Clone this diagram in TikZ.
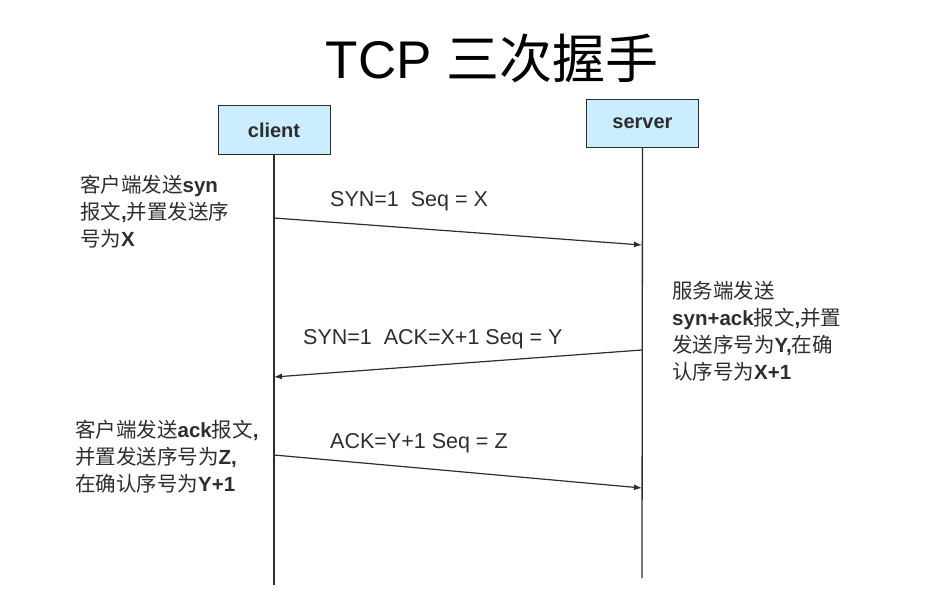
\documentclass[tikz,border=0pt]{standalone}
\usepackage{fontspec}
\setmainfont{Liberation Sans}
\newfontfamily\cjk{Noto Sans CJK SC}
\usetikzlibrary{positioning,arrows.meta}
\definecolor{boxfill}{RGB}{204,236,255}
\definecolor{ink}{RGB}{45,45,45}
\newcommand{\zh}[1]{{\cjk #1}}
\newcommand{\la}[1]{\textbf{#1}}
\tikzset{
  host/.style={draw=ink,fill=boxfill,minimum width=112pt,minimum height=48pt,inner sep=0pt,font=\fontsize{20}{22}\selectfont\bfseries,text=ink,line width=1pt},
  life/.style={draw=ink,line width=1.3pt},
  msg/.style={-{Latex[length=8pt,width=6pt]},draw=ink,line width=1.2pt},
  lbl/.style={anchor=west,font=\fontsize{21.5}{24}\selectfont,inner sep=0pt,text=ink},
  note/.style={anchor=north west,align=left,font=\fontsize{20.5}{27}\selectfont,inner sep=0pt,text=ink},
}

\begin{document}
\begin{tikzpicture}[x=1pt,y=-1pt]
  \useasboundingbox (0,0) rectangle (942,615);
  \node[font=\fontsize{53}{60}\selectfont] (title) at (492,58) {TCP \zh{三次握手}};

  % hosts and lifelines
  \node[host] (client) at (274,130) {client};
  \node[host] (server) at (642.5,123.5) {server};
  \coordinate (cend) at (274,585);
  \coordinate (send) at (642,578);
  \draw[life] (client.south) -- (cend);
  \draw[life] (server.south) -- (send);

  % message end points on the lifelines
  \coordinate (c1) at (274,218);  \coordinate (s1) at (642,245);
  \coordinate (s2) at (642,350);  \coordinate (c2) at (274,377);
  \coordinate (c3) at (274,455);  \coordinate (s3) at (642,488);

  \draw[msg] (c1) -- (s1);
  \draw[msg] (s2) -- (c2);
  \draw[msg] (c3) -- (s3);

  \node[lbl] (m1) at (330,201) {SYN=1\ \ Seq = X};
  \node[lbl] (m2) at (303,339) {SYN=1\ \ ACK=X+1 Seq = Y};
  \node[lbl] (m3) at (330,443) {ACK=Y+1 Seq = Z};

  % notes
  \node[note] (n1) at (80,175) {\zh{客户端发送}\la{syn}\\\zh{报文}\la{,}\zh{并置发送序}\\\zh{号为}\la{X}};
  \node[note] (n2) at (672,281) {\zh{服务端发送}\\\la{syn+ack}\zh{报文}\la{,}\zh{并置}\\\zh{发送序号为}\la{Y,}\zh{在确}\\\zh{认序号为}\la{X+1}};
  \node[note] (n3) at (75,420) {\zh{客户端发送}\la{ack}\zh{报文}\la{,}\\\zh{并置发送序号为}\la{Z,}\\\zh{在确认序号为}\la{Y+1}};
\end{tikzpicture}
\end{document}
